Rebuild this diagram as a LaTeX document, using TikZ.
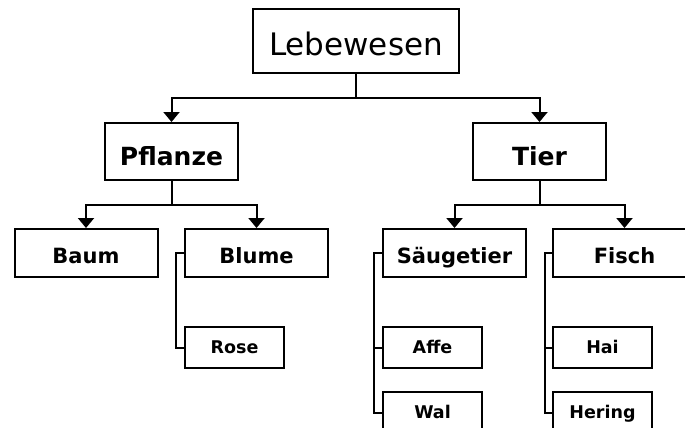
\documentclass[tikz,border=0pt]{standalone}
\usepackage{fontspec}
\setmainfont{DejaVu Sans}
\usetikzlibrary{arrows.meta}
\begin{document}
\begin{tikzpicture}[x=1pt,y=-1pt,
  box/.style={draw=black,line width=2pt,fill=white,inner sep=0pt,anchor=center,text depth=0pt},
  big/.style={box,minimum width=206pt,minimum height=64pt,text height=28.6pt,font=\fontsize{31}{36}\selectfont},
  mid/.style={box,minimum width=133pt,minimum height=57pt,text height=27pt,font=\bfseries\fontsize{25}{28}\selectfont},
  sub/.style={box,minimum width=143pt,minimum height=48pt,text height=20.3pt,font=\bfseries\fontsize{21}{25}\selectfont},
  leaf/.style={box,minimum width=99pt,minimum height=41pt,text height=12.8pt,font=\bfseries\fontsize{17.5}{20}\selectfont},
  con/.style={draw=black,line width=2pt},
  arr/.style={con,-{Triangle[width=16pt,length=10pt]}}]
\useasboundingbox (0,0) rectangle (685,428);
\clip (0,0) rectangle (685,428);
\fill[white] (0,0) rectangle (685,428);
\node[big] (leb) at (356,41) {Lebewesen};
\node[mid] (pfl) at (171.5,151.5) {Pflanze};
\node[mid] (tier) at (539.5,151.5) {Tier};
\node[sub] (baum) at (86,253) {Baum};
\node[sub] (blume) at (256.5,253) {Blume};
\node[sub] (saeug) at (454.5,253) {Säugetier};
\node[sub] (fisch) at (624.5,253) {Fisch};
\node[leaf] (rose) at (234.5,347.5) {Rose};
\node[leaf] (affe) at (432.5,347.5) {Affe};
\node[leaf] (hai) at (602.5,347.5) {Hai};
\node[leaf] (wal) at (432.5,412.5) {Wal};
\node[leaf] (hering) at (602.5,412.5) {Hering};
\coordinate (j1) at (356,98);
\coordinate (j2) at (171.5,205);
\coordinate (j3) at (539.5,205);
\draw[con] (leb.south) -- (j1);
\draw[arr] (j1) -| (pfl.north);
\draw[arr] (j1) -| (tier.north);
\draw[con] (pfl.south) -- (j2);
\draw[arr] (j2) -| (baum.north);
\draw[arr] (j2) -| (blume.north);
\draw[con] (tier.south) -- (j3);
\draw[arr] (j3) -| (saeug.north);
\draw[arr] (j3) -| (fisch.north);
\draw[con] (blume.west) -- ++(-8,0) |- (rose.west);
\draw[con] (saeug.west) -- ++(-8,0) |- (affe.west);
\draw[con] (saeug.west) ++(-8,0) |- (wal.west);
\draw[con] (fisch.west) -- ++(-7,0) |- (hai.west);
\draw[con] (fisch.west) ++(-7,0) |- (hering.west);
\end{tikzpicture}
\end{document}
